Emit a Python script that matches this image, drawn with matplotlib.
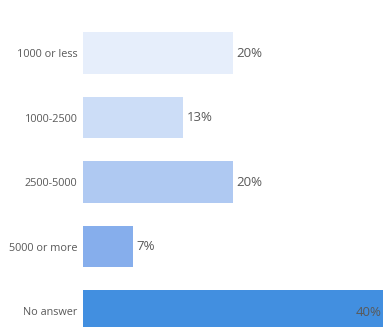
import matplotlib
matplotlib.use('Agg')
import matplotlib.pyplot as plt

categories = ['1000 or less', '1000-2500', '2500-5000', '5000 or more', 'No answer']
values = [20.0, 13.33, 20.0, 6.67, 40.0]
labels = ['20%', '13%', '20%', '7%', '40%']
colors = ['#E6EEFB', '#CCDDF7', '#AFC9F2', '#86AEEC', '#428FE0']

plt.rcParams['font.family'] = ['Open Sans', 'DejaVu Sans']

fig = plt.figure(figsize=(3.83, 3.27), dpi=100)
ax = fig.add_axes([83 / 383, 0, 300 / 383, 1])

pos = list(range(len(categories)))
ax.barh(pos, values, height=0.65, color=colors)
ax.set_xlim(0, 40)
ax.set_ylim(4.248, -0.822)

for i, (v, lab) in enumerate(zip(values, labels)):
    if v >= 35:
        ax.text(v - 0.2, i + 0.02, lab, ha='right', va='center', fontsize=9.5, color='#595959')
    else:
        ax.text(v + 0.5, i, lab, ha='left', va='center', fontsize=9.5, color='#595959')

ax.set_yticks(pos)
ax.set_yticklabels(categories, fontsize=7.8, color='#595959')
ax.tick_params(axis='y', length=0, pad=4)
ax.set_xticks([])
for s in ax.spines.values():
    s.set_visible(False)

fig.savefig('out.png', dpi=100)
